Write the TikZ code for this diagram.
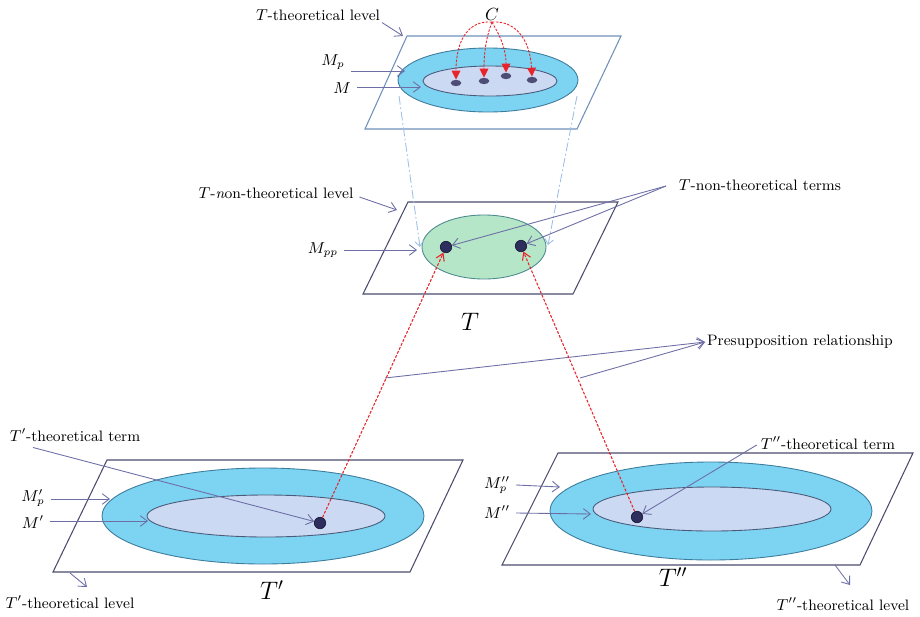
\documentclass[tikz,border=0pt]{standalone}
\usepackage{amsmath}
\usepackage{xcolor}
\usepackage{tikz}
\usetikzlibrary{positioning,calc,arrows.meta,shapes.geometric}
\definecolor{lvlslate}{HTML}{4B4B6E}
\definecolor{lvltop}{HTML}{7090BA}
\definecolor{ringcyan}{HTML}{7DD3F2}
\definecolor{ringedge}{HTML}{3C7C9C}
\definecolor{corelav}{HTML}{CBD9F2}
\definecolor{coreedge}{HTML}{4A5A7A}
\definecolor{mintfill}{HTML}{B5E6C8}
\definecolor{mintedge}{HTML}{4E8A8E}
\definecolor{termnavy}{HTML}{2E2E5E}
\definecolor{ptrslate}{HTML}{6E6EA6}
\definecolor{presred}{HTML}{E8242A}
\definecolor{projblue}{HTML}{9FC0E6}

\begin{document}
\begin{tikzpicture}[x=0.02cm, y=-0.02cm,
  plane/.style={draw=lvlslate, line width=0.6pt, fill=white, line join=miter},
  ring/.style={draw=ringedge, fill=ringcyan, line width=0.5pt},
  core/.style={draw=coreedge, fill=corelav, line width=0.5pt},
  mint/.style={draw=mintedge, fill=mintfill, line width=0.5pt},
  termdot/.style={circle, fill=termnavy, draw=termnavy!60!black, inner sep=0pt, minimum size=6.5pt},
  cdot/.style={ellipse, fill=termnavy!85, inner sep=0pt, minimum width=6pt, minimum height=3.6pt},
  ptr/.style={-{Straight Barb[length=4pt,width=6pt]}, draw=ptrslate, line width=0.5pt},
  presup/.style={-{Straight Barb[length=4pt,width=5pt]}, draw=presred, line width=0.6pt, dash pattern=on 1.6pt off 0.9pt},
  carc/.style={-{Triangle[length=5pt,width=5pt]}, draw=presred, line width=0.5pt, dash pattern=on 1.4pt off 0.8pt},
  proj/.style={-{Straight Barb[length=3pt,width=5pt]}, draw=projblue, line width=0.5pt, dash pattern=on 5pt off 1.5pt on 1pt off 1.5pt},
  lbl/.style={font=\fontsize{8.6}{10}\selectfont, inner sep=1pt},
  mlbl/.style={font=\small, inner sep=1pt},
  big/.style={font=\Large, inner sep=1pt},
]
\useasboundingbox (0,0) rectangle (920,616);

% ---------- top plane: T-theoretical level ----------
\draw[plane, draw=lvltop] (407,36) -- (621,36) -- (577,129) -- (365,129) -- cycle;
\draw[ring] (488,80) ellipse [x radius=90, y radius=32];
\draw[core] (490,81) ellipse [x radius=67, y radius=15];
\node[cdot] (c1) at (456,83) {};
\node[cdot] (c2) at (484,81) {};
\node[cdot] (c3) at (506,76) {};
\node[cdot] (c4) at (532,80) {};
\node[mlbl, font=\normalsize] (C) at (492,14) {$C$};
\draw[carc] (C.south) .. controls (470,20) and (456,38) .. (c1.north);
\draw[carc] (C.south) .. controls (486,38) and (484,52) .. (c2.north);
\draw[carc] (C.south) .. controls (500,36) and (506,48) .. (c3.north);
\draw[carc] (C.south) .. controls (514,20) and (530,38) .. (c4.north);

\node[lbl] (lvlT) at (318,15) {$T$-theoretical level};
\coordinate (topcorner) at (403,36);
\draw[ptr] (lvlT.south east) -- (topcorner);
\node[mlbl] (Mp) at (333,62) {$M_p$};
\coordinate (mpedge) at (405,71);
\draw[ptr] (Mp.east) ++(4,9) coordinate (mpstart) (mpstart) -- (mpedge);
\node[mlbl] (M) at (342,88) {$M$};
\coordinate (medge) at (421,87);
\draw[ptr] (M.east) ++(4,-1) coordinate (mstart) (mstart) -- (medge);

% ---------- projection onto the middle plane ----------
\coordinate (projL) at (399,96);
\coordinate (projR) at (577,96);

% ---------- middle plane: T-non-theoretical level ----------
\draw[plane] (408,202) -- (618,202) -- (573,294) -- (363,294) -- cycle;
\draw[mint] (484,247) ellipse [x radius=62, y radius=32];
\coordinate (mintL) at (420,247);
\coordinate (mintR) at (548,245);
\draw[proj] (projL) -- (mintL);
\draw[proj] (projR) -- (mintR);
\node[termdot] (n1) at (446,247) {};
\node[termdot] (n2) at (521,246) {};
\node[big] (T) at (470,322) {$T$};

\node[lbl] (lvlN) at (276,193) {$T$-\textit{n}on-theoretical level};
\coordinate (midcorner) at (397,210);
\draw[ptr] (lvlN.east) ++(4,4) coordinate (nstart) (nstart) -- (midcorner);
\node[mlbl] (Mpp) at (323,250) {$M_{pp}$};
\coordinate (mppedge) at (417,250);
\draw[ptr] (Mpp.east) ++(4,0) coordinate (mppstart) (mppstart) -- (mppedge);
\node[lbl] (nterms) at (760,185) {$T$-non-theoretical terms};
\coordinate (ntstart) at (666,186);
\draw[ptr] (ntstart) -- (n1);
\draw[ptr] (ntstart) -- (n2);

% ---------- presupposition ----------
\node[lbl] (presup) at (800,342) {Presupposition relationship};
\coordinate (ps1) at (385,378);
\coordinate (ps2) at (580,378);
\draw[ptr] (ps1) -- (presup.west);
\draw[ptr] (ps2) -- (presup.west);

% ---------- bottom-left plane: T' ----------
\draw[plane] (107,460) -- (463,460) -- (410,572) -- (53,572) -- cycle;
\draw[ring] (263,516) ellipse [x radius=161, y radius=48];
\draw[core] (266,516) ellipse [x radius=119, y radius=21];
\node[termdot] (t1) at (320,523) {};
\node[big] (Tp) at (272,590) {$T'$};

\node[lbl] (tpterm) at (75,435) {$T'$-theoretical term};
\draw[ptr] (tpterm.south) ++(-42,4) coordinate (tpstart) (tpstart) -- (t1);
\node[mlbl] (Mpprime) at (33,498) {$M'_p$};
\coordinate (mp1edge) at (110,499);
\draw[ptr] (Mpprime.east) ++(4,1) coordinate (mp1start) (mp1start) -- (mp1edge);
\node[mlbl] (Mprime) at (33,522) {$M'$};
\coordinate (m1edge) at (148,521);
\draw[ptr] (Mprime.east) ++(4,-1) coordinate (m1start) (m1start) -- (m1edge);
\node[lbl] (lvlTp) at (70,602) {$T'$-theoretical level};
\coordinate (tpcorner) at (70,573);
\draw[ptr] (tpcorner) -- ++(17,14);

% ---------- bottom-right plane: T'' ----------
\draw[plane] (558,453) -- (913,453) -- (860,565) -- (502,565) -- cycle;
\draw[ring] (711,511) ellipse [x radius=161, y radius=49];
\draw[core] (712,509) ellipse [x radius=119, y radius=22];
\node[termdot] (t2) at (637,517) {};
\node[big] (Tpp) at (673,577) {$T''$};

\node[lbl] (tppterm) at (828,443) {$T''$-theoretical term};
\draw[ptr] (tppterm.west) ++(-2,2) coordinate (tppstart) (tppstart) -- (t2);
\node[mlbl] (Mppp) at (497,485) {$M''_p$};
\coordinate (mp2edge) at (560,487);
\draw[ptr] (Mppp.east) ++(4,0) coordinate (mp2start) (mp2start) -- (mp2edge);
\node[mlbl] (Mpp2) at (497,512) {$M''$};
\coordinate (m2edge) at (591,514);
\draw[ptr] (Mpp2.east) ++(4,1) coordinate (m2start) (m2start) -- (m2edge);
\node[lbl] (lvlTpp) at (843,604) {$T''$-theoretical level};
\coordinate (tppcorner) at (835,565);
\draw[ptr] (tppcorner) -- ++(15,20);

% ---------- presupposition arrows between levels ----------
\draw[presup] (t1) -- (n1);
\draw[presup] (t2) -- (n2);
\end{tikzpicture}
\end{document}
